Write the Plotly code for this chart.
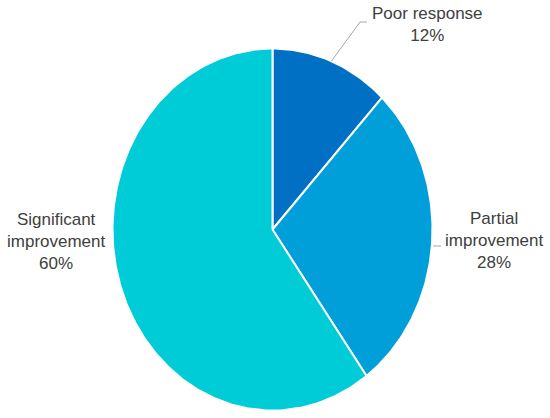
import numpy as np
import plotly.graph_objects as go

labels = ["Poor response", "Partial improvement", "Significant improvement"]
label_text = ["Poor response<br>12%", "Partial<br>improvement<br>28%", "Significant<br>improvement<br>60%"]
values = [12, 28, 60]
colors = ["#0070C4", "#009FDA", "#00CCD8"]

W, H = 550, 418
CX, CY = 272.5, 229.5   # pie centre in px
RX, RY = 160, 181       # source image is stretched, so the pie is an ellipse


def px2x(px):
    return (px - CX) / RX


def px2y(py):
    return (CY - py) / RY


fig = go.Figure()
total = sum(values)
start = 0.0
mids = []
for lab, val, col in zip(labels, values, colors):
    end = start + val / total
    t = np.linspace(start, end, max(int(val * 4), 10)) * 2 * np.pi
    xs = np.concatenate([[0], np.sin(t), [0]])
    ys = np.concatenate([[0], np.cos(t), [0]])
    fig.add_trace(go.Scatter(x=xs, y=ys, fill="toself", fillcolor=col, mode="lines",
                             line=dict(color="white", width=2), name=lab,
                             hoveron="fills", hoverinfo="name"))
    mids.append((start + end) / 2 * 2 * np.pi)
    start = end

# leader lines
lead = dict(color="#A6A6A6", width=1)
a = mids[0]
fig.add_trace(go.Scatter(x=[np.sin(a), px2x(360), px2x(367)], y=[np.cos(a), px2y(22), px2y(22)],
                         mode="lines", line=lead, hoverinfo="skip"))
fig.add_trace(go.Scatter(x=[px2x(433), px2x(441)], y=[px2y(246), px2y(246)],
                         mode="lines", line=lead, hoverinfo="skip"))

label_pos = [(427, 24), (494, 240), (56, 241)]
for txt, (lx, ly) in zip(label_text, label_pos):
    fig.add_annotation(x=px2x(lx), y=px2y(ly), text=txt, showarrow=False,
                       xanchor="center", yanchor="middle", align="center",
                       font=dict(family="Liberation Sans, Arial", size=17, color="#404040"))

fig.update_xaxes(range=[px2x(0), px2x(W)], visible=False, fixedrange=True)
fig.update_yaxes(range=[px2y(H), px2y(0)], visible=False, fixedrange=True)
fig.update_layout(width=W, height=H, margin=dict(l=0, r=0, t=0, b=0),
                  showlegend=False, plot_bgcolor="white", paper_bgcolor="white")
# drop the browser's default 8px body margin so the figure sits at 0,0
fig.write_html("out.html", config={"displayModeBar": False},
               post_script="document.body.style.margin='0';document.body.style.overflow='hidden';")
